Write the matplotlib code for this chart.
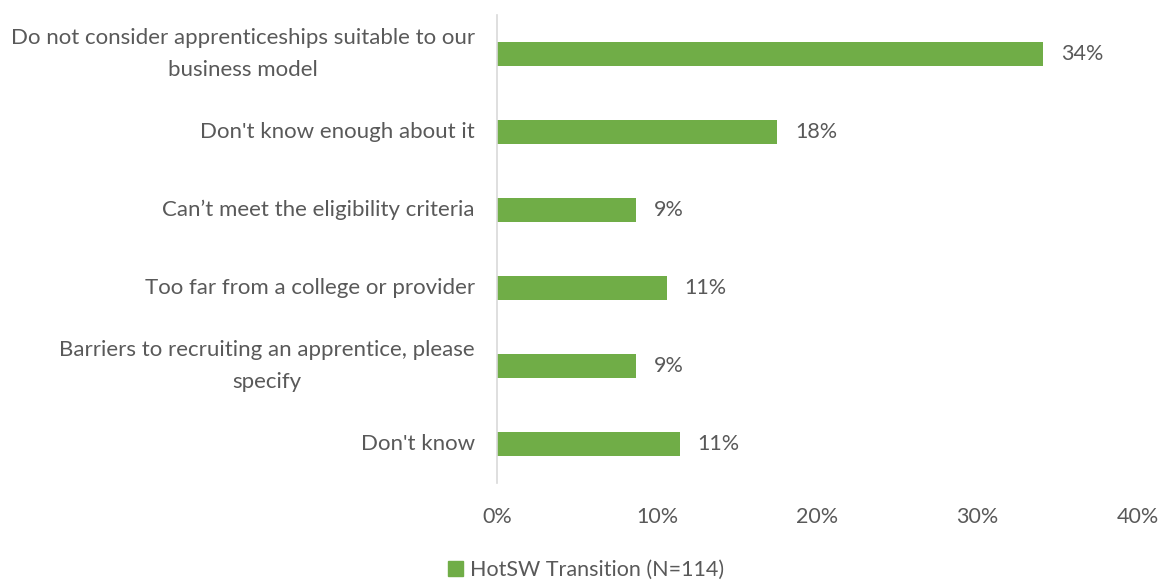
import matplotlib
matplotlib.use("Agg")
import matplotlib.pyplot as plt
from matplotlib.ticker import FuncFormatter, MultipleLocator
from matplotlib.patches import Patch

categories = [
    "Do not consider apprenticeships suitable to our\nbusiness model",
    "Don't know enough about it",
    "Can\u2019t meet the eligibility criteria",
    "Too far from a college or provider",
    "Barriers to recruiting an apprentice, please\nspecify",
    "Don't know",
]
values = [34.1, 17.5, 8.7, 10.6, 8.7, 11.4]
series_name = "HotSW Transition (N=114)"

bar_color = "#70AD47"
text_color = "#595959"

plt.rcParams["font.family"] = ["Lato", "DejaVu Sans"]

fig = plt.figure(figsize=(11.6, 5.84), dpi=100)
ax = fig.add_axes([0.4284, 0.1729, 0.5526, 0.8014])

y = list(range(len(categories)))
ax.barh(y, values, height=0.31, color=bar_color)
ax.set_ylim(len(categories) - 0.5, -0.5)
ax.set_xlim(0, 40)
ax.xaxis.set_major_locator(MultipleLocator(10))
ax.xaxis.set_major_formatter(FuncFormatter(lambda v, p: f"{v:.0f}%"))

ax.set_yticks(y)
ax.set_yticklabels(categories, multialignment="center", linespacing=1.75,
                   va="center")

for yi, v in zip(y, values):
    ax.text(v + 1.1, yi, f"{v:.0f}%", va="center", ha="left",
            fontsize=15.5, color=text_color)

for s in ["top", "right", "bottom"]:
    ax.spines[s].set_visible(False)
ax.spines["left"].set_color("#D9D9D9")
ax.spines["left"].set_linewidth(1.2)
ax.tick_params(axis="both", length=0, labelsize=16, colors=text_color)
ax.tick_params(axis="x", labelsize=15.5)
ax.tick_params(axis="y", pad=16)
ax.tick_params(axis="x", pad=17)

fig.legend(handles=[Patch(color=bar_color)], labels=[series_name],
           loc="center", bbox_to_anchor=(0.505, 0.024), frameon=False,
           fontsize=15.5, labelcolor=text_color, handlelength=0.7,
           handleheight=0.7, handletextpad=0.3)

fig.savefig("out.png", dpi=100)
